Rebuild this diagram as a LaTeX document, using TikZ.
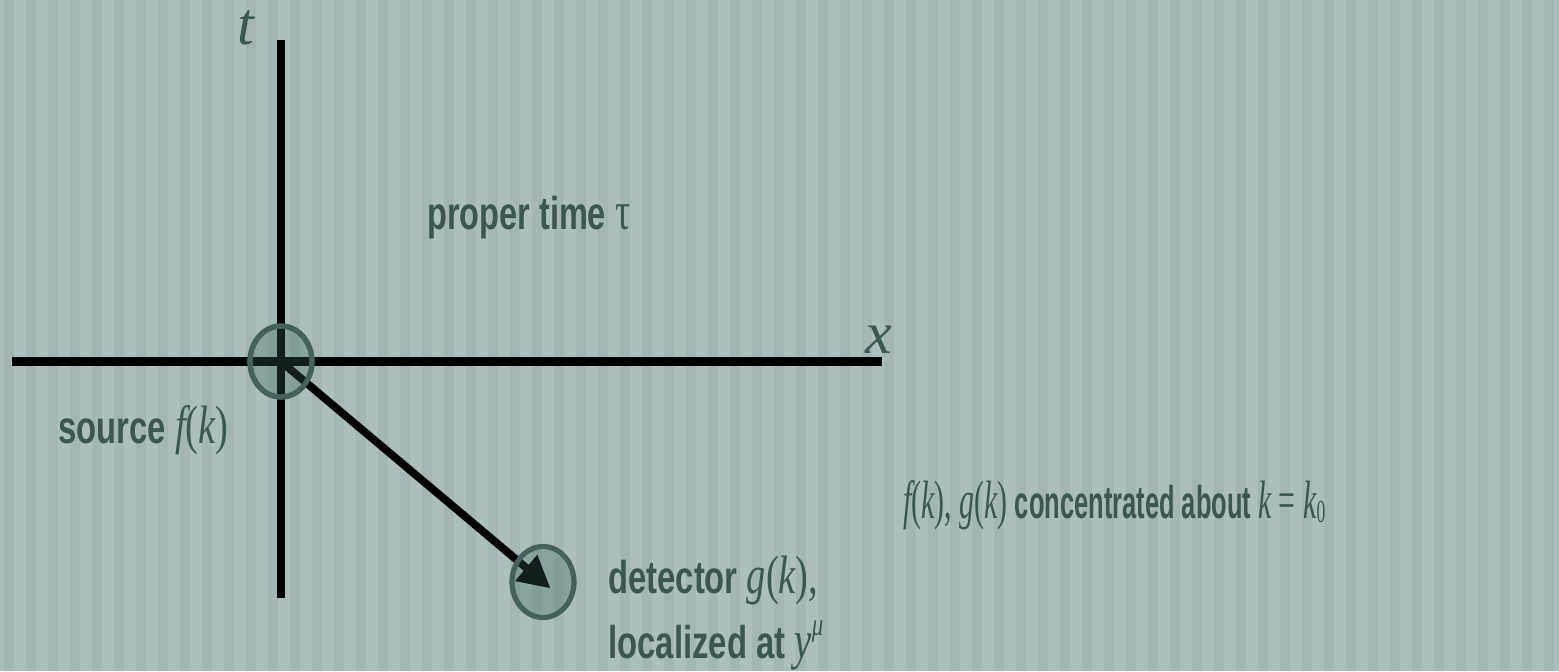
\documentclass[tikz,border=0pt]{standalone}
\usepackage{graphicx}
\usepackage{fontspec}
\setmainfont{Liberation Sans}
\newfontfamily\mathfont{Liberation Serif}
\usepackage{tikz}
\usetikzlibrary{arrows.meta, shapes.geometric, positioning}

\definecolor{bgbase}{RGB}{172,191,189}
\definecolor{bgdark}{RGB}{163,182,181}
\definecolor{inkteal}{RGB}{60,86,84}
\definecolor{blobfill}{RGB}{60,100,95}
\definecolor{blobline}{RGB}{70,96,94}

% math-looking pieces set in a Times-like face
\newcommand\mv[1]{{\fontsize{27}{27}\mathfont\mdseries\itshape #1}}
\newcommand\mr[1]{{\fontsize{27}{27}\mathfont\mdseries\upshape #1}}
\newcommand\msup[1]{\raisebox{0.5em}{\fontsize{16}{16}\mathfont\mdseries\itshape #1}}
\newcommand\msub[1]{\raisebox{-0.1em}{\fontsize{16}{16}\mathfont\mdseries\upshape #1}}
% squeeze a label to a given width, keep its height
\newcommand\squeeze[2]{\resizebox{#1}{\height}{#2}}

\tikzset{
  axis/.style={line width=4.4pt, black},
  blob/.style={ellipse, draw=blobline, line width=2.6pt, fill=blobfill, fill opacity=0.3,
    minimum width=31pt, minimum height=35.5pt, inner sep=0pt},
  label/.style={text=inkteal, font=\fontsize{23}{27}\selectfont\bfseries, inner sep=0pt,
    anchor=base west},
  axislabel/.style={text=inkteal, font=\fontsize{30}{30}\mathfont\itshape, inner sep=0pt,
    anchor=base}
}

\begin{document}
\begin{tikzpicture}[x=0.5pt, y=-0.5pt]
  % background with soft vertical stripes
  \fill[bgbase] (0,0) rectangle (1559,671);
  \foreach \i in {0,...,70} {
    \fill[bgdark] (22*\i+4,0) rectangle (22*\i+14,671);
  }
  \useasboundingbox (0,0) rectangle (1559,671);

  % axes
  \coordinate (tbot) at (281,598);
  \coordinate (ttop) at (281,40);
  \coordinate (xleft) at (12,361.5);
  \coordinate (xright) at (882,361.5);
  \draw[axis] (tbot) -- (ttop);
  \draw[axis] (xleft) -- (xright);
  \node[axislabel] (tlab) at (246,44) {t};
  \node[axislabel] (xlab) at (879,353) {x};

  % source and detector
  \node[blob, fill opacity=0] (src) at (281,361.5) {};
  \node[blob, fill opacity=0, draw opacity=0] (det) at (543,582) {};
  \draw[line width=3.9pt, -{Triangle[length=16pt, width=16pt]}, shorten >=-5pt]
    (src.center) -- (det.center);
  \node[blob] at (src) {};
  \node[blob] at (det) {};

  % labels
  \node[label] (ptime) at (427,229)
    {\squeeze{101.5pt}{proper time \mr{τ}}};
  \node[label] (slab) at (58,443)
    {\squeeze{85pt}{source \mv{f}\mr{(}\mv{k}\mr{)}}};
  \node[label] (dlab) at (608,593)
    {\squeeze{105pt}{detector \mv{g}\mr{(}\mv{k}\mr{),}}};
  \node[label] (llab) at (608,658)
    {\squeeze{107.5pt}{localized at \mv{y}\msup{μ}}};
  \node[label] (clab) at (903,518)
    {\squeeze{211pt}{\mv{f}\mr{(}\mv{k}\mr{), }\mv{g}\mr{(}\mv{k}\mr{)} concentrated about \mv{k}\mr{ = }\mv{k}\msub{0}}};
\end{tikzpicture}
\end{document}
